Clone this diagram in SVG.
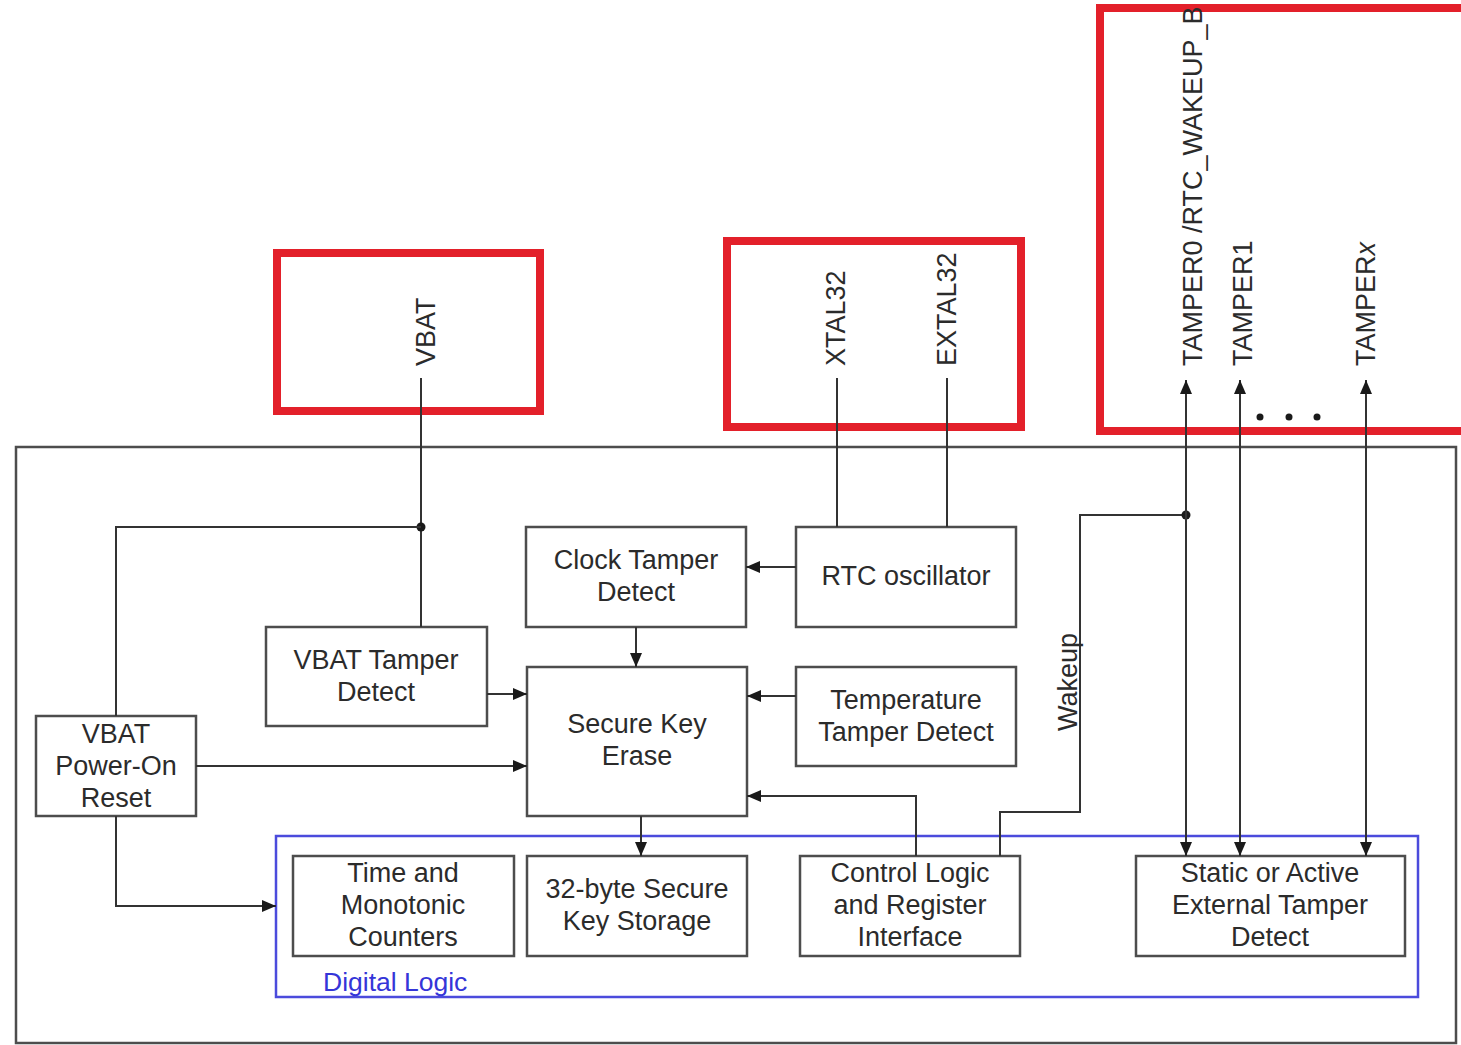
<svg xmlns="http://www.w3.org/2000/svg" width="1461" height="1045" viewBox="0 0 1461 1045">
<style>
.bg{fill:#ffffff}
.box{fill:none;stroke:#4d4d4d;stroke-width:2.5}
.red{fill:none;stroke:#e3202a;stroke-width:8}
.blue{fill:none;stroke:#4b4bdc;stroke-width:2.5}
.w{fill:none;stroke:#333333;stroke-width:2}
.t{font-family:"Liberation Sans",Arial,sans-serif;font-size:27px;fill:#2b2b2b;text-anchor:middle}
.r{font-family:"Liberation Sans",Arial,sans-serif;font-size:27px;fill:#2b2b2b}
.dl{font-family:"Liberation Sans",Arial,sans-serif;font-size:26.5px;fill:#3535d8}
</style>
<defs>
<marker id="ah" markerUnits="userSpaceOnUse" markerWidth="14" markerHeight="12" viewBox="0 0 14 12" refX="14" refY="6" orient="auto">
<path d="M0,0 L14,6 L0,12 Z" fill="#1a1a1a"/>
</marker>
</defs>
<rect class="bg" x="0" y="0" width="1461" height="1045"/>

<g id="pins">
<rect class="red" x="277" y="253" width="263" height="158"/>
<rect class="red" x="727" y="241" width="294" height="186"/>
<path class="red" d="M1466,8 L1100,8 L1100,431 L1466,431"/>
<text class="r" transform="translate(435,366) rotate(-90)">VBAT</text>
<text class="r" transform="translate(845,366) rotate(-90)">XTAL32</text>
<text class="r" transform="translate(956,366) rotate(-90)">EXTAL32</text>
<text class="r" transform="translate(1202,366) rotate(-90)">TAMPER0 /RTC_WAKEUP_B</text>
<text class="r" transform="translate(1252,366) rotate(-90)">TAMPER1</text>
<text class="r" transform="translate(1375,366) rotate(-90)">TAMPER<tspan font-style="italic">x</tspan></text>
<circle cx="1260" cy="417" r="3.5" fill="#1a1a1a"/>
<circle cx="1289" cy="417" r="3.5" fill="#1a1a1a"/>
<circle cx="1317" cy="417" r="3.5" fill="#1a1a1a"/>
</g>

<g id="outer"><rect class="box" x="16" y="447" width="1440" height="596"/></g>

<g id="digital-logic">
<rect class="blue" x="276" y="836" width="1142" height="161"/>
<text class="dl" x="323" y="991">Digital Logic</text>
</g>

<g id="vbat-tamper"><rect class="box" x="266" y="627" width="221" height="99"/>
<text class="t" x="376" y="669">VBAT Tamper</text><text class="t" x="376" y="701">Detect</text></g>

<g id="vbat-por"><rect class="box" x="36" y="716" width="160" height="100"/>
<text class="t" x="116" y="743">VBAT</text><text class="t" x="116" y="775">Power-On</text><text class="t" x="116" y="807">Reset</text></g>

<g id="clock-tamper"><rect class="box" x="526" y="527" width="220" height="100"/>
<text class="t" x="636" y="569">Clock Tamper</text><text class="t" x="636" y="601">Detect</text></g>

<g id="rtc-osc"><rect class="box" x="796" y="527" width="220" height="100"/>
<text class="t" x="906" y="585">RTC oscillator</text></g>

<g id="ske"><rect class="box" x="527" y="667" width="220" height="149"/>
<text class="t" x="637" y="733">Secure Key</text><text class="t" x="637" y="765">Erase</text></g>

<g id="temp-tamper"><rect class="box" x="796" y="667" width="220" height="99"/>
<text class="t" x="906" y="709">Temperature</text><text class="t" x="906" y="741">Tamper Detect</text></g>

<g id="counters"><rect class="box" x="293" y="856" width="221" height="100"/>
<text class="t" x="403" y="882">Time and</text><text class="t" x="403" y="914">Monotonic</text><text class="t" x="403" y="946">Counters</text></g>

<g id="key-storage"><rect class="box" x="527" y="856" width="220" height="100"/>
<text class="t" x="637" y="898">32-byte Secure</text><text class="t" x="637" y="930">Key Storage</text></g>

<g id="control"><rect class="box" x="800" y="856" width="220" height="100"/>
<text class="t" x="910" y="882">Control Logic</text><text class="t" x="910" y="914">and Register</text><text class="t" x="910" y="946">Interface</text></g>

<g id="ext-tamper"><rect class="box" x="1136" y="856" width="269" height="100"/>
<text class="t" x="1270" y="882">Static or Active</text><text class="t" x="1270" y="914">External Tamper</text><text class="t" x="1270" y="946">Detect</text></g>

<g id="connectors">
<path class="w" d="M421,378 L421,627"/>
<circle cx="421" cy="527" r="4.5" fill="#1a1a1a"/>
<path class="w" d="M421,527 L116,527 L116,716"/>
<path class="w" d="M116,816 L116,906 L276,906" marker-end="url(#ah)"/>
<path class="w" d="M196,766 L527,766" marker-end="url(#ah)"/>
<path class="w" d="M487,694 L527,694" marker-end="url(#ah)"/>
<path class="w" d="M636,627 L636,667" marker-end="url(#ah)"/>
<path class="w" d="M796,567 L746,567" marker-end="url(#ah)"/>
<path class="w" d="M796,696 L747,696" marker-end="url(#ah)"/>
<path class="w" d="M916,856 L916,796 L747,796" marker-end="url(#ah)"/>
<path class="w" d="M641,816 L641,856" marker-end="url(#ah)"/>
<path class="w" d="M837,378 L837,527"/>
<path class="w" d="M947,378 L947,527"/>
<path class="w" d="M1000,856 L1000,812 L1080,812 L1080,515 L1186,515"/>
<circle cx="1186" cy="515" r="4.5" fill="#1a1a1a"/>
<text class="r" transform="translate(1077,731) rotate(-90)">Wakeup</text>
<path class="w" d="M1186,620 L1186,380" marker-end="url(#ah)"/>
<path class="w" d="M1186,600 L1186,856" marker-end="url(#ah)"/>
<path class="w" d="M1240,620 L1240,380" marker-end="url(#ah)"/>
<path class="w" d="M1240,600 L1240,856" marker-end="url(#ah)"/>
<path class="w" d="M1366,620 L1366,380" marker-end="url(#ah)"/>
<path class="w" d="M1366,600 L1366,856" marker-end="url(#ah)"/>
</g>
</svg>
